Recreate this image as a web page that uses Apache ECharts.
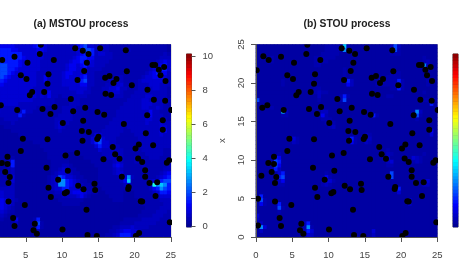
<!DOCTYPE html>
<html><head><meta charset="utf-8">
<style>html,body{margin:0;padding:0;background:#fff}#c{width:459px;height:260px}</style>
<script src="https://cdn.jsdelivr.net/npm/echarts@6/dist/echarts.min.js"></script>
</head><body><div id="c"></div>
<script>
const levels=[0.0,0.18,0.33,0.5,0.72,1.05,1.45,1.9,2.6,3.2,4.0,5];
const pointsX=[7.08,11.82,12.87,13.66,15.26,18.8,1.01,1.75,3.45,6.94,5.24,8.87,13.43,22.48,22.85,24.09,23.36,0.09,13.06,18.94,8.14,4.32,23.59,5.1,12.14,15.95,16.55,17.52,17.1,24.28,8,19.63,21.79,7.54,5.89,5.56,16,16.78,11.22,22.67,24.23,0.87,1.56,3.82,7.31,8.97,11.54,13.2,8.41,14.9,15.82,21.75,25.06,10.11,12.92,23.9,18.53,23.9,12.74,13.7,21.56,4.6,8,15.03,14.85,12.83,22.57,20.6,20.14,17,4.32,12.09,17.33,10.48,2.48,17.93,15.72,20.5,21.06,24.78,24.46,1.7,2.48,7.86,10.8,21.47,2.16,0.74,2.8,18.25,21.47,9.47,2.62,14.48,22.07,23.13,12.23,8.14,12.97,14.57,19.2,19.13,10.67,10.39,8.46,22.9,0.28,2.62,20.87,21.06,4.87,13.38,3.26,3.45,0.28,6.25,24.87,6.07,6.53,10.07,13.52,14.8,20.64,20.18];
const pointsY=[24.98,24.5,24.2,23.77,24.5,24.24,23.46,22.99,23.42,23.77,22.64,22.99,22.64,22.34,22.34,22.08,21.73,21.65,21.56,21.52,21.13,21,21,20.52,20.39,20.69,20.9,20.52,20,20.26,19.91,19.7,19.13,18.83,18.83,18.4,18.6,18.44,17.92,17.84,17.7,16.8,17.1,16.5,16.62,16.88,16.32,16.8,15.97,16.23,15.89,15.8,16.5,14.8,15.1,15.15,14.68,13.94,13.77,13.64,13.46,12.77,12.68,13.03,12.73,12.5,11.9,12,11.5,11.7,11.17,10.9,10.74,10.6,10.43,10.17,10.09,10.2,9.74,9.96,9.65,9.6,9.48,9,8.6,8.66,8.44,7.97,7.8,7.84,7.84,7.45,7,6.93,7,7.1,6.67,6.4,6.19,6.1,6.49,6.23,5.84,5.67,5.2,5.32,4.98,4.6,4.63,4.6,4.16,3.55,2.47,1.43,1.5,1.73,1.9,0.87,0.43,0.99,0.26,0.13,0.52,0.13];
const rowsMSTOU=[
"5555555444 4456543333 3333567443 4332222222 2222222221",
"6666665544 4445543333 3333447763 4332222232 2222222221",
"6666666664 4445433333 3333456663 4433222222 2222222232",
"6666666665 4444433333 3334566553 3333222222 2222222333",
"6666666654 4444333333 3345565543 3332222222 2222223454",
"6777766654 4444333333 3455456443 3322222222 2222234564",
"7777766544 4444333333 3455445333 3222222222 2222345664",
"7777765444 4443333333 4554445332 2222222222 2223456553",
"7777654444 4443353333 4544456332 2222233222 2234455543",
"6776544444 4443353333 4444467332 2223343222 2344444433",
"6765444444 4443333333 4444455332 2233444222 2333444333",
"5654444444 4433333333 3344444322 2334453322 2333344332",
"5544444444 4443335333 3333443322 2233443222 3333333332",
"4544444444 4443435332 3333333222 2223333223 3334433332",
"4444444444 4433333322 2223322222 2222222233 3344333333",
"3444444433 3333333322 2233322222 2222222333 3344433322",
"4533333333 3332222222 3333222222 2222223333 3344334322",
"4553333336 3322222222 3333222222 2222233333 3333533222",
"3333333363 2222222223 3332222222 2222233333 3333533322",
"2222333322 2222222233 3332222222 2222333333 3334433332",
"1122223222 2222222234 3322222222 2223333333 3334333433",
"1111222222 2222222234 3222222222 2233333233 3333333443",
"1111112222 2222222223 2222222222 2333333223 3333333553",
"1111111122 2222222222 2222222224 4333332222 3333333433",
"1111111111 2222222222 2222222246 7433322222 2333333333",
"1111111111 1122222222 2222222246 7443322222 2333333333",
"1111111111 1111222222 2222222224 6443332222 2333333333",
"1111111111 1111122222 2222222222 4333333222 2233333322",
"1111111111 1111112222 2111222222 2333333222 2223333322",
"1111112111 1111112222 1111112222 2233343222 3222333222",
"1111136111 1111111222 2211111122 2222343222 3322222222",
"1111136111 1111111222 3321111112 2222454222 2232222223",
"1111123111 1111111223 4322111111 2222343222 2223222233",
"2112223111 1111111234 4432211111 2222344222 2222222345",
"2222234111 1111112337 6443221111 2222223483 2222223456",
"3222234111 1111112348 8654322111 2222223592 2222345677",
"3322233111 1111112348 8654432211 2222222342 22223a8986",
"4433333111 1111112344 6644433222 1222222222 2222356876",
"5444333111 1111112233 4445554322 1122222111 2222234665",
"5444333111 1111111222 3333453211 1112222111 2222223444",
"6555443211 1111111112 2222221111 1111222111 1222222333",
"6655443111 1111111111 2222211111 1111111111 1122222233",
"6655432111 1111111111 1111111111 1111111111 1112222333",
"5544322111 1111111111 1111111111 1111111111 1122223332",
"4433211111 1111111111 1111111111 1111111111 1222233322",
"3322111511 1126111111 1111111111 1111111222 2233333222",
"2211111311 1117211111 1111111111 1111112222 3333332222",
"2111111111 1116211111 1111111111 1111223334 3333222222",
"1111111111 1113111111 1111111111 1112234554 4322222222",
"1111111111 1111111111 1111111111 1122346664 3222222222"];
const rowsSTOU=[
"1111111111 1111111112 2222921111 1111111373 1111111111",
"1111111111 1111111112 2222821111 1111111272 1111111111",
"1111111111 1111111122 2221111111 1111111222 1111111111",
"1111211111 1111112222 2211111111 1111111111 1111112111",
"1112211111 1111112322 1111111111 1111111111 1111112311",
"1111111111 1111112211 1111111111 1111111111 1111118311",
"1111111111 1111111111 1111211111 1111111111 1111113211",
"1111111111 1111111111 1111211111 1111111222 1111111111",
"1111111111 1111111111 1111211111 1111112222 1111111111",
"1111111211 1111111111 1111163111 1111222226 2111111211",
"1111111211 1111111111 1111153111 1112222226 2111111211",
"1111111111 1111112211 1111111111 1111111226 2111111111",
"1111111111 1111112322 1111111111 1111111111 1111112111",
"1111111111 1111111311 1112621111 1111112211 1111111111",
"7111111111 1111111211 1112711111 1111111111 1111112272",
"1111111111 1111111111 1111111111 1111111111 1111111161",
"1111211111 1111111111 1111111111 1111111111 1111111111",
"1111111931 1111111133 1111111111 1111111111 1111831111",
"1111111221 1111111252 1111111111 1162111111 1111721111",
"1111111111 1111111122 2111111111 1111111111 1111211111",
"1111111111 1111111112 3211111111 1111111111 1111111111",
"1111111111 1111111111 2311111111 1111111111 1111111111",
"1111111111 1111111111 1111111111 1111111111 1111111151",
"1111111111 1111111111 1111111111 3211111111 1111111141",
"1111111111 4211111111 1111116211 3311111111 1111111111",
"1111111111 3211111111 1111115211 3211111111 1111111111",
"1111111111 1111111111 1111111111 1111111111 1111111111",
"1111111111 1111111111 1111111111 1111112111 1111111111",
"1111112111 1111111111 1111111111 1111113211 1111112111",
"1111165111 1111111111 1111111111 1111124111 1114321111",
"1111176111 1111111111 1111111111 1111113411 1112321111",
"1111175111 1111111111 1111111111 1111112211 1111111111",
"1111263111 1111111111 1111111111 1111111111 1111111111",
"1111114611 1111111112 1111111111 1111111711 1111111111",
"1111116711 1111111115 2111111111 1111111711 1111111111",
"1111113511 1111111124 4211111111 1111111111 1111113411",
"1111112211 1111111123 2111111111 1111111111 1111113311",
"1111111111 1111111111 1111111111 1111111116 1111111111",
"1111111111 1111111111 1111111111 1111111114 1111111111",
"1611111111 1111111111 1111111111 1111111111 1111111111",
"1721111111 1111111111 1111111111 1111111111 1141111111",
"1521116111 1111111111 1111111111 1111111111 1131111111",
"1111117211 1111111111 1111111111 1111111111 1111111111",
"1111112111 1111111111 1111111111 1111111111 1111111111",
"4111111111 1111111111 1111111111 1111111111 1111111111",
"3111111111 1111111111 1111111111 1111111111 1111111111",
"1311111111 1113611111 1111111111 1111111111 1111111111",
"1841111111 1112821111 1111111111 1111111111 1111111111",
"1311111111 1112641111 1111111111 1141111111 1111111111",
"1111111111 1111431111 1111111111 1131111111 1111111111"];
const colorbarValues=[0,0.2,0.4,0.6,0.8,1,1.2,1.4,1.6,1.8,2,2.2,2.4,2.6,2.8,3,3.2,3.4,3.6,3.8,4,4.2,4.4,4.6,4.8,5,5.2,5.4,5.6,5.8,6,6.2,6.4,6.6,6.8,7,7.2,7.4,7.6,7.8,8,8.2,8.4,8.6,8.8,9,9.2,9.4,9.6,9.8,10];
const xTicks=[0,5,10,15,20,25];
const yTicks=[0,5,10,15,20,25];
const barTicks=[0,2,4,6,8,10];
const palette=['#00008F','#0000FF','#0080FF','#00FFFF','#80FF80','#FFFF00','#FF8000','#FF0000','#800000'];
const F='"Liberation Sans",Arial,sans-serif', TC='#444';

function cells(rows){const out=[];rows.forEach((s,r)=>{const t=s.replace(/ /g,'');
  for(let c=0;c<50;c++){const k=parseInt(t[c]||'1',36);out.push([c,49-r,levels[k]]);}});return out;}
const idx=Array.from({length:50},(_,i)=>i);
const pts=pointsX.map((x,i)=>[x,pointsY[i]]);
const G=[{left:-10.5,top:44.5,width:181.25,height:192.5},{left:256,top:44.5,width:181.25,height:192.5},
 {left:186.5,top:54,width:5,height:173},{left:453,top:54,width:5,height:173}];
const hiddenCat=(g,data)=>({type:'category',gridIndex:g,data,show:false});
const line={show:true,lineStyle:{color:'#555',width:1}};
const valX=g=>({type:'value',gridIndex:g,min:0,max:25,interval:5,position:'bottom',z:3,
  axisLine:line,axisTick:{show:true,length:5,lineStyle:{color:'#555'},customValues:xTicks},
  axisLabel:{show:true,color:TC,fontSize:9.5,fontFamily:F,margin:13,customValues:xTicks,hideOverlap:false},
  splitLine:{show:false}});
const valY=g=>({type:'value',gridIndex:g,min:0,max:25,interval:5,position:'left',z:3,
  axisLine:line,axisTick:{show:true,length:5,lineStyle:{color:'#555'},customValues:yTicks},
  axisLabel:{show:true,rotate:90,color:TC,fontSize:9.5,fontFamily:F,margin:10,customValues:yTicks},
  splitLine:{show:false}});
const barY=(g,vis)=>({type:'value',gridIndex:g,min:-0.06,max:10.12,position:'right',z:3,
  name:vis?'x':'',nameLocation:'middle',nameGap:24,nameRotate:90,nameTextStyle:{color:TC,fontSize:9.5,fontFamily:F},
  axisLine:{show:false},axisTick:{show:vis,length:4,lineStyle:{color:'#555'},customValues:barTicks},
  axisLabel:{show:vis,color:TC,fontSize:9.5,fontFamily:F,margin:11,customValues:barTicks},splitLine:{show:false}});
const heat=(x,y,data)=>({type:'heatmap',xAxisIndex:x,yAxisIndex:y,data,progressive:0,animation:false,itemStyle:{borderWidth:0}});
const scat=(x,y)=>({type:'custom',xAxisIndex:x,yAxisIndex:y,data:pts,clip:true,z:5,animation:false,
  encode:{x:0,y:1},
  renderItem:(p,api)=>{const c=api.coord([api.value(0),api.value(1)]);
    return {type:'circle',shape:{cx:c[0],cy:c[1],r:3},style:{fill:'#000'}};}});

const chart=echarts.init(document.getElementById('c'),null,{renderer:'canvas'});
chart.setOption({animation:false,backgroundColor:'#fff',
 title:[{text:'(a) MSTOU process',left:76,top:14,textAlign:'center',textStyle:{fontSize:10.3,fontWeight:'bold',color:'#222',fontFamily:F}},
        {text:'(b) STOU process',left:342,top:14,textAlign:'center',textStyle:{fontSize:10.3,fontWeight:'bold',color:'#222',fontFamily:F}}],
 grid:G.map((g,i)=>Object.assign({show:true,borderColor:i<2?'#888':'#555',borderWidth:1,backgroundColor:i<2?'#0000A8':'#000090',containLabel:false,outerBoundsMode:'none'},g)),
 xAxis:[hiddenCat(0,idx),valX(0),hiddenCat(1,idx),valX(1),hiddenCat(2,['c']),hiddenCat(3,['c'])],
 yAxis:[hiddenCat(0,idx),valY(0),hiddenCat(1,idx),valY(1),hiddenCat(2,colorbarValues),barY(2,true),hiddenCat(3,colorbarValues),barY(3,false)],
 visualMap:[{type:'continuous',show:false,min:-0.05,max:10.15,seriesIndex:[0,2,4,5],dimension:2,inRange:{color:palette}}],
 series:[heat(0,0,cells(rowsMSTOU)),scat(1,1),heat(2,2,cells(rowsSTOU)),scat(3,3),
  heat(4,4,colorbarValues.map((v,i)=>[0,i,v])),heat(5,6,colorbarValues.map((v,i)=>[0,i,v]))]
});
</script></body></html>
